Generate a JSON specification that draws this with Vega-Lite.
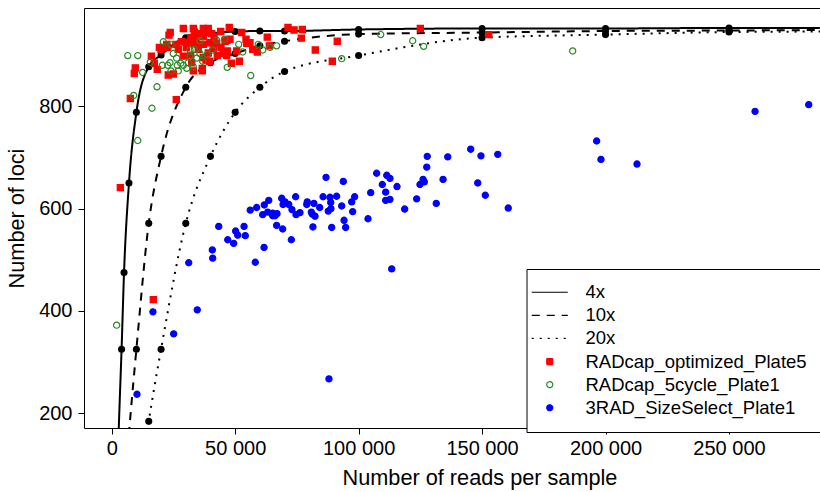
{
  "$schema": "https://vega.github.io/schema/vega-lite/v6.json",
  "width": 736,
  "height": 420,
  "autosize": {"type": "none"},
  "padding": {"left": 84, "top": 8, "right": 0, "bottom": 64},
  "background": "white",
  "datasets": {
    "curves": [
      {"x": 2000, "y": 40, "series": "4x", "dot": false},
      {"x": 3000, "y": 190, "series": "4x", "dot": false},
      {"x": 4000, "y": 325, "series": "4x", "dot": true},
      {"x": 5000, "y": 475, "series": "4x", "dot": true},
      {"x": 7000, "y": 650, "series": "4x", "dot": true},
      {"x": 10000, "y": 788, "series": "4x", "dot": true},
      {"x": 15000, "y": 877, "series": "4x", "dot": true},
      {"x": 20000, "y": 900, "series": "4x", "dot": true},
      {"x": 30000, "y": 934, "series": "4x", "dot": true},
      {"x": 50000, "y": 946, "series": "4x", "dot": true},
      {"x": 60000, "y": 947, "series": "4x", "dot": true},
      {"x": 70000, "y": 947, "series": "4x", "dot": true},
      {"x": 100000, "y": 950, "series": "4x", "dot": true},
      {"x": 150000, "y": 952, "series": "4x", "dot": true},
      {"x": 200000, "y": 952, "series": "4x", "dot": true},
      {"x": 250000, "y": 953, "series": "4x", "dot": true},
      {"x": 290000, "y": 953, "series": "4x", "dot": false},
      {"x": 5000, "y": 40, "series": "10x", "dot": false},
      {"x": 7500, "y": 190, "series": "10x", "dot": false},
      {"x": 10000, "y": 325, "series": "10x", "dot": true},
      {"x": 15000, "y": 571, "series": "10x", "dot": true},
      {"x": 20000, "y": 702, "series": "10x", "dot": true},
      {"x": 30000, "y": 837, "series": "10x", "dot": true},
      {"x": 40000, "y": 885, "series": "10x", "dot": true},
      {"x": 50000, "y": 903, "series": "10x", "dot": true},
      {"x": 60000, "y": 918, "series": "10x", "dot": true},
      {"x": 70000, "y": 927, "series": "10x", "dot": true},
      {"x": 100000, "y": 941, "series": "10x", "dot": true},
      {"x": 150000, "y": 944, "series": "10x", "dot": true},
      {"x": 200000, "y": 947, "series": "10x", "dot": true},
      {"x": 250000, "y": 948, "series": "10x", "dot": true},
      {"x": 290000, "y": 949, "series": "10x", "dot": false},
      {"x": 11000, "y": 40, "series": "20x", "dot": false},
      {"x": 13000, "y": 120, "series": "20x", "dot": false},
      {"x": 15000, "y": 184, "series": "20x", "dot": true},
      {"x": 20000, "y": 325, "series": "20x", "dot": true},
      {"x": 30000, "y": 571, "series": "20x", "dot": true},
      {"x": 40000, "y": 702, "series": "20x", "dot": true},
      {"x": 50000, "y": 788, "series": "20x", "dot": true},
      {"x": 60000, "y": 837, "series": "20x", "dot": true},
      {"x": 70000, "y": 868, "series": "20x", "dot": true},
      {"x": 100000, "y": 899, "series": "20x", "dot": true},
      {"x": 150000, "y": 934, "series": "20x", "dot": true},
      {"x": 200000, "y": 940, "series": "20x", "dot": true},
      {"x": 250000, "y": 945, "series": "20x", "dot": true},
      {"x": 290000, "y": 946, "series": "20x", "dot": false}
    ],
    "samples": [
      {"x": 29000, "y": 952, "series": "RADcap_optimized_Plate5"},
      {"x": 33050, "y": 952, "series": "RADcap_optimized_Plate5"},
      {"x": 37100, "y": 952, "series": "RADcap_optimized_Plate5"},
      {"x": 39100, "y": 952, "series": "RADcap_optimized_Plate5"},
      {"x": 47600, "y": 954, "series": "RADcap_optimized_Plate5"},
      {"x": 23700, "y": 944, "series": "RADcap_optimized_Plate5"},
      {"x": 23200, "y": 939, "series": "RADcap_optimized_Plate5"},
      {"x": 33450, "y": 945, "series": "RADcap_optimized_Plate5"},
      {"x": 35750, "y": 942, "series": "RADcap_optimized_Plate5"},
      {"x": 38500, "y": 944, "series": "RADcap_optimized_Plate5"},
      {"x": 40500, "y": 942, "series": "RADcap_optimized_Plate5"},
      {"x": 44150, "y": 946, "series": "RADcap_optimized_Plate5"},
      {"x": 52650, "y": 944, "series": "RADcap_optimized_Plate5"},
      {"x": 32100, "y": 934, "series": "RADcap_optimized_Plate5"},
      {"x": 34150, "y": 931, "series": "RADcap_optimized_Plate5"},
      {"x": 37100, "y": 936, "series": "RADcap_optimized_Plate5"},
      {"x": 41450, "y": 936, "series": "RADcap_optimized_Plate5"},
      {"x": 47900, "y": 931, "series": "RADcap_optimized_Plate5"},
      {"x": 63000, "y": 935, "series": "RADcap_optimized_Plate5"},
      {"x": 71400, "y": 954, "series": "RADcap_optimized_Plate5"},
      {"x": 73850, "y": 949, "series": "RADcap_optimized_Plate5"},
      {"x": 77200, "y": 950, "series": "RADcap_optimized_Plate5"},
      {"x": 76800, "y": 933, "series": "RADcap_optimized_Plate5"},
      {"x": 91350, "y": 927, "series": "RADcap_optimized_Plate5"},
      {"x": 28200, "y": 926, "series": "RADcap_optimized_Plate5"},
      {"x": 26050, "y": 921, "series": "RADcap_optimized_Plate5"},
      {"x": 22300, "y": 921, "series": "RADcap_optimized_Plate5"},
      {"x": 30400, "y": 925, "series": "RADcap_optimized_Plate5"},
      {"x": 33050, "y": 926, "series": "RADcap_optimized_Plate5"},
      {"x": 32000, "y": 923, "series": "RADcap_optimized_Plate5"},
      {"x": 34650, "y": 921, "series": "RADcap_optimized_Plate5"},
      {"x": 37100, "y": 921, "series": "RADcap_optimized_Plate5"},
      {"x": 39800, "y": 924, "series": "RADcap_optimized_Plate5"},
      {"x": 42500, "y": 923, "series": "RADcap_optimized_Plate5"},
      {"x": 45900, "y": 927, "series": "RADcap_optimized_Plate5"},
      {"x": 46700, "y": 929, "series": "RADcap_optimized_Plate5"},
      {"x": 54400, "y": 931, "series": "RADcap_optimized_Plate5"},
      {"x": 54700, "y": 923, "series": "RADcap_optimized_Plate5"},
      {"x": 56000, "y": 924, "series": "RADcap_optimized_Plate5"},
      {"x": 44250, "y": 915, "series": "RADcap_optimized_Plate5"},
      {"x": 19300, "y": 915, "series": "RADcap_optimized_Plate5"},
      {"x": 19950, "y": 911, "series": "RADcap_optimized_Plate5"},
      {"x": 22700, "y": 915, "series": "RADcap_optimized_Plate5"},
      {"x": 26950, "y": 911, "series": "RADcap_optimized_Plate5"},
      {"x": 30200, "y": 915, "series": "RADcap_optimized_Plate5"},
      {"x": 35050, "y": 911, "series": "RADcap_optimized_Plate5"},
      {"x": 41150, "y": 913, "series": "RADcap_optimized_Plate5"},
      {"x": 50600, "y": 908, "series": "RADcap_optimized_Plate5"},
      {"x": 57100, "y": 911, "series": "RADcap_optimized_Plate5"},
      {"x": 63850, "y": 918, "series": "RADcap_optimized_Plate5"},
      {"x": 46800, "y": 908, "series": "RADcap_optimized_Plate5"},
      {"x": 58950, "y": 906, "series": "RADcap_optimized_Plate5"},
      {"x": 39100, "y": 904, "series": "RADcap_optimized_Plate5"},
      {"x": 45200, "y": 903, "series": "RADcap_optimized_Plate5"},
      {"x": 29000, "y": 898, "series": "RADcap_optimized_Plate5"},
      {"x": 32000, "y": 900, "series": "RADcap_optimized_Plate5"},
      {"x": 42750, "y": 899, "series": "RADcap_optimized_Plate5"},
      {"x": 46600, "y": 899, "series": "RADcap_optimized_Plate5"},
      {"x": 16050, "y": 898, "series": "RADcap_optimized_Plate5"},
      {"x": 37100, "y": 895, "series": "RADcap_optimized_Plate5"},
      {"x": 38200, "y": 890, "series": "RADcap_optimized_Plate5"},
      {"x": 39550, "y": 888, "series": "RADcap_optimized_Plate5"},
      {"x": 82450, "y": 910, "series": "RADcap_optimized_Plate5"},
      {"x": 89350, "y": 888, "series": "RADcap_optimized_Plate5"},
      {"x": 17250, "y": 884, "series": "RADcap_optimized_Plate5"},
      {"x": 32400, "y": 885, "series": "RADcap_optimized_Plate5"},
      {"x": 48450, "y": 884, "series": "RADcap_optimized_Plate5"},
      {"x": 51700, "y": 888, "series": "RADcap_optimized_Plate5"},
      {"x": 18450, "y": 872, "series": "RADcap_optimized_Plate5"},
      {"x": 9550, "y": 875, "series": "RADcap_optimized_Plate5"},
      {"x": 9150, "y": 864, "series": "RADcap_optimized_Plate5"},
      {"x": 36700, "y": 874, "series": "RADcap_optimized_Plate5"},
      {"x": 33050, "y": 869, "series": "RADcap_optimized_Plate5"},
      {"x": 36700, "y": 869, "series": "RADcap_optimized_Plate5"},
      {"x": 22900, "y": 861, "series": "RADcap_optimized_Plate5"},
      {"x": 24950, "y": 863, "series": "RADcap_optimized_Plate5"},
      {"x": 7550, "y": 815, "series": "RADcap_optimized_Plate5"},
      {"x": 26150, "y": 813, "series": "RADcap_optimized_Plate5"},
      {"x": 3500, "y": 641, "series": "RADcap_optimized_Plate5"},
      {"x": 16850, "y": 422, "series": "RADcap_optimized_Plate5"},
      {"x": 125000, "y": 952, "series": "RADcap_optimized_Plate5"},
      {"x": 152700, "y": 940, "series": "RADcap_optimized_Plate5"},
      {"x": 6500, "y": 899, "series": "RADcap_5cycle_Plate1"},
      {"x": 10550, "y": 899, "series": "RADcap_5cycle_Plate1"},
      {"x": 8900, "y": 821, "series": "RADcap_5cycle_Plate1"},
      {"x": 16300, "y": 796, "series": "RADcap_5cycle_Plate1"},
      {"x": 18350, "y": 838, "series": "RADcap_5cycle_Plate1"},
      {"x": 12550, "y": 866, "series": "RADcap_5cycle_Plate1"},
      {"x": 10550, "y": 733, "series": "RADcap_5cycle_Plate1"},
      {"x": 15650, "y": 886, "series": "RADcap_5cycle_Plate1"},
      {"x": 20500, "y": 880, "series": "RADcap_5cycle_Plate1"},
      {"x": 23600, "y": 885, "series": "RADcap_5cycle_Plate1"},
      {"x": 24000, "y": 869, "series": "RADcap_5cycle_Plate1"},
      {"x": 26950, "y": 869, "series": "RADcap_5cycle_Plate1"},
      {"x": 26300, "y": 894, "series": "RADcap_5cycle_Plate1"},
      {"x": 27950, "y": 884, "series": "RADcap_5cycle_Plate1"},
      {"x": 29000, "y": 880, "series": "RADcap_5cycle_Plate1"},
      {"x": 31000, "y": 885, "series": "RADcap_5cycle_Plate1"},
      {"x": 30400, "y": 874, "series": "RADcap_5cycle_Plate1"},
      {"x": 24950, "y": 903, "series": "RADcap_5cycle_Plate1"},
      {"x": 24000, "y": 920, "series": "RADcap_5cycle_Plate1"},
      {"x": 20900, "y": 926, "series": "RADcap_5cycle_Plate1"},
      {"x": 31700, "y": 910, "series": "RADcap_5cycle_Plate1"},
      {"x": 35750, "y": 903, "series": "RADcap_5cycle_Plate1"},
      {"x": 34400, "y": 894, "series": "RADcap_5cycle_Plate1"},
      {"x": 36850, "y": 888, "series": "RADcap_5cycle_Plate1"},
      {"x": 38700, "y": 901, "series": "RADcap_5cycle_Plate1"},
      {"x": 40900, "y": 910, "series": "RADcap_5cycle_Plate1"},
      {"x": 42500, "y": 929, "series": "RADcap_5cycle_Plate1"},
      {"x": 45750, "y": 931, "series": "RADcap_5cycle_Plate1"},
      {"x": 35750, "y": 928, "series": "RADcap_5cycle_Plate1"},
      {"x": 46800, "y": 876, "series": "RADcap_5cycle_Plate1"},
      {"x": 51450, "y": 921, "series": "RADcap_5cycle_Plate1"},
      {"x": 53050, "y": 906, "series": "RADcap_5cycle_Plate1"},
      {"x": 56300, "y": 860, "series": "RADcap_5cycle_Plate1"},
      {"x": 59350, "y": 921, "series": "RADcap_5cycle_Plate1"},
      {"x": 61150, "y": 910, "series": "RADcap_5cycle_Plate1"},
      {"x": 64100, "y": 915, "series": "RADcap_5cycle_Plate1"},
      {"x": 66800, "y": 918, "series": "RADcap_5cycle_Plate1"},
      {"x": 33050, "y": 877, "series": "RADcap_5cycle_Plate1"},
      {"x": 22700, "y": 880, "series": "RADcap_5cycle_Plate1"},
      {"x": 26550, "y": 880, "series": "RADcap_5cycle_Plate1"},
      {"x": 31700, "y": 897, "series": "RADcap_5cycle_Plate1"},
      {"x": 33450, "y": 911, "series": "RADcap_5cycle_Plate1"},
      {"x": 108950, "y": 940, "series": "RADcap_5cycle_Plate1"},
      {"x": 121900, "y": 928, "series": "RADcap_5cycle_Plate1"},
      {"x": 126350, "y": 917, "series": "RADcap_5cycle_Plate1"},
      {"x": 93150, "y": 893, "series": "RADcap_5cycle_Plate1"},
      {"x": 186700, "y": 908, "series": "RADcap_5cycle_Plate1"},
      {"x": 2000, "y": 372, "series": "RADcap_5cycle_Plate1"},
      {"x": 86800, "y": 661, "series": "3RAD_SizeSelect_Plate1"},
      {"x": 68850, "y": 620, "series": "3RAD_SizeSelect_Plate1"},
      {"x": 74500, "y": 623, "series": "3RAD_SizeSelect_Plate1"},
      {"x": 63600, "y": 616, "series": "3RAD_SizeSelect_Plate1"},
      {"x": 70200, "y": 613, "series": "3RAD_SizeSelect_Plate1"},
      {"x": 71700, "y": 608, "series": "3RAD_SizeSelect_Plate1"},
      {"x": 73000, "y": 598, "series": "3RAD_SizeSelect_Plate1"},
      {"x": 69400, "y": 608, "series": "3RAD_SizeSelect_Plate1"},
      {"x": 79200, "y": 613, "series": "3RAD_SizeSelect_Plate1"},
      {"x": 79000, "y": 608, "series": "3RAD_SizeSelect_Plate1"},
      {"x": 81900, "y": 610, "series": "3RAD_SizeSelect_Plate1"},
      {"x": 85600, "y": 623, "series": "3RAD_SizeSelect_Plate1"},
      {"x": 88400, "y": 622, "series": "3RAD_SizeSelect_Plate1"},
      {"x": 91100, "y": 624, "series": "3RAD_SizeSelect_Plate1"},
      {"x": 88700, "y": 612, "series": "3RAD_SizeSelect_Plate1"},
      {"x": 84250, "y": 602, "series": "3RAD_SizeSelect_Plate1"},
      {"x": 87700, "y": 595, "series": "3RAD_SizeSelect_Plate1"},
      {"x": 88800, "y": 600, "series": "3RAD_SizeSelect_Plate1"},
      {"x": 56100, "y": 597, "series": "3RAD_SizeSelect_Plate1"},
      {"x": 58700, "y": 602, "series": "3RAD_SizeSelect_Plate1"},
      {"x": 61800, "y": 607, "series": "3RAD_SizeSelect_Plate1"},
      {"x": 61150, "y": 588, "series": "3RAD_SizeSelect_Plate1"},
      {"x": 63200, "y": 593, "series": "3RAD_SizeSelect_Plate1"},
      {"x": 65200, "y": 591, "series": "3RAD_SizeSelect_Plate1"},
      {"x": 66950, "y": 590, "series": "3RAD_SizeSelect_Plate1"},
      {"x": 65200, "y": 586, "series": "3RAD_SizeSelect_Plate1"},
      {"x": 66150, "y": 586, "series": "3RAD_SizeSelect_Plate1"},
      {"x": 74650, "y": 588, "series": "3RAD_SizeSelect_Plate1"},
      {"x": 76250, "y": 592, "series": "3RAD_SizeSelect_Plate1"},
      {"x": 80850, "y": 593, "series": "3RAD_SizeSelect_Plate1"},
      {"x": 81250, "y": 589, "series": "3RAD_SizeSelect_Plate1"},
      {"x": 82350, "y": 585, "series": "3RAD_SizeSelect_Plate1"},
      {"x": 66800, "y": 567, "series": "3RAD_SizeSelect_Plate1"},
      {"x": 69250, "y": 560, "series": "3RAD_SizeSelect_Plate1"},
      {"x": 81500, "y": 564, "series": "3RAD_SizeSelect_Plate1"},
      {"x": 89100, "y": 563, "series": "3RAD_SizeSelect_Plate1"},
      {"x": 72750, "y": 539, "series": "3RAD_SizeSelect_Plate1"},
      {"x": 43350, "y": 565, "series": "3RAD_SizeSelect_Plate1"},
      {"x": 50200, "y": 556, "series": "3RAD_SizeSelect_Plate1"},
      {"x": 53600, "y": 565, "series": "3RAD_SizeSelect_Plate1"},
      {"x": 51050, "y": 548, "series": "3RAD_SizeSelect_Plate1"},
      {"x": 54100, "y": 547, "series": "3RAD_SizeSelect_Plate1"},
      {"x": 47000, "y": 539, "series": "3RAD_SizeSelect_Plate1"},
      {"x": 49400, "y": 532, "series": "3RAD_SizeSelect_Plate1"},
      {"x": 61700, "y": 524, "series": "3RAD_SizeSelect_Plate1"},
      {"x": 40750, "y": 519, "series": "3RAD_SizeSelect_Plate1"},
      {"x": 40900, "y": 503, "series": "3RAD_SizeSelect_Plate1"},
      {"x": 31200, "y": 494, "series": "3RAD_SizeSelect_Plate1"},
      {"x": 58150, "y": 495, "series": "3RAD_SizeSelect_Plate1"},
      {"x": 16700, "y": 398, "series": "3RAD_SizeSelect_Plate1"},
      {"x": 34650, "y": 402, "series": "3RAD_SizeSelect_Plate1"},
      {"x": 25100, "y": 355, "series": "3RAD_SizeSelect_Plate1"},
      {"x": 10250, "y": 237, "series": "3RAD_SizeSelect_Plate1"},
      {"x": 88000, "y": 267, "series": "3RAD_SizeSelect_Plate1"},
      {"x": 145400, "y": 716, "series": "3RAD_SizeSelect_Plate1"},
      {"x": 149550, "y": 703, "series": "3RAD_SizeSelect_Plate1"},
      {"x": 156350, "y": 706, "series": "3RAD_SizeSelect_Plate1"},
      {"x": 127800, "y": 702, "series": "3RAD_SizeSelect_Plate1"},
      {"x": 136100, "y": 701, "series": "3RAD_SizeSelect_Plate1"},
      {"x": 127600, "y": 681, "series": "3RAD_SizeSelect_Plate1"},
      {"x": 107300, "y": 669, "series": "3RAD_SizeSelect_Plate1"},
      {"x": 111400, "y": 665, "series": "3RAD_SizeSelect_Plate1"},
      {"x": 112700, "y": 659, "series": "3RAD_SizeSelect_Plate1"},
      {"x": 109600, "y": 647, "series": "3RAD_SizeSelect_Plate1"},
      {"x": 115550, "y": 643, "series": "3RAD_SizeSelect_Plate1"},
      {"x": 110950, "y": 632, "series": "3RAD_SizeSelect_Plate1"},
      {"x": 110950, "y": 616, "series": "3RAD_SizeSelect_Plate1"},
      {"x": 112700, "y": 618, "series": "3RAD_SizeSelect_Plate1"},
      {"x": 104900, "y": 631, "series": "3RAD_SizeSelect_Plate1"},
      {"x": 93800, "y": 653, "series": "3RAD_SizeSelect_Plate1"},
      {"x": 98400, "y": 623, "series": "3RAD_SizeSelect_Plate1"},
      {"x": 97200, "y": 613, "series": "3RAD_SizeSelect_Plate1"},
      {"x": 93150, "y": 605, "series": "3RAD_SizeSelect_Plate1"},
      {"x": 97600, "y": 594, "series": "3RAD_SizeSelect_Plate1"},
      {"x": 94100, "y": 577, "series": "3RAD_SizeSelect_Plate1"},
      {"x": 94750, "y": 563, "series": "3RAD_SizeSelect_Plate1"},
      {"x": 103800, "y": 580, "series": "3RAD_SizeSelect_Plate1"},
      {"x": 118650, "y": 599, "series": "3RAD_SizeSelect_Plate1"},
      {"x": 123500, "y": 619, "series": "3RAD_SizeSelect_Plate1"},
      {"x": 126100, "y": 657, "series": "3RAD_SizeSelect_Plate1"},
      {"x": 126600, "y": 652, "series": "3RAD_SizeSelect_Plate1"},
      {"x": 124850, "y": 647, "series": "3RAD_SizeSelect_Plate1"},
      {"x": 134200, "y": 657, "series": "3RAD_SizeSelect_Plate1"},
      {"x": 131450, "y": 610, "series": "3RAD_SizeSelect_Plate1"},
      {"x": 148250, "y": 650, "series": "3RAD_SizeSelect_Plate1"},
      {"x": 151300, "y": 626, "series": "3RAD_SizeSelect_Plate1"},
      {"x": 160600, "y": 601, "series": "3RAD_SizeSelect_Plate1"},
      {"x": 113400, "y": 482, "series": "3RAD_SizeSelect_Plate1"},
      {"x": 196400, "y": 732, "series": "3RAD_SizeSelect_Plate1"},
      {"x": 198150, "y": 696, "series": "3RAD_SizeSelect_Plate1"},
      {"x": 212750, "y": 687, "series": "3RAD_SizeSelect_Plate1"},
      {"x": 260550, "y": 790, "series": "3RAD_SizeSelect_Plate1"},
      {"x": 282300, "y": 803, "series": "3RAD_SizeSelect_Plate1"}
    ]
  },
  "layer": [
    {
      "data": {"name": "curves"},
      "mark": {"type": "line", "interpolate": "monotone", "strokeWidth": 2, "clip": true},
      "encoding": {
        "x": {
          "field": "x", "type": "quantitative",
          "scale": {"domain": [-11218, 286862], "nice": false, "zero": false},
          "axis": {
            "values": [0, 50000, 100000, 150000, 200000, 250000],
            "labelExpr": "replace(format(datum.value, ','), ',', ' ')",
            "title": "Number of reads per sample",
            "titleX": 395.5,
            "titleAnchor": null,
            "titleAlign": "center",
            "titlePadding": 9,
            "labelPadding": 4
          }
        },
        "y": {
          "field": "y", "type": "quantitative",
          "scale": {"domain": [171, 992], "nice": false, "zero": false},
          "axis": {
            "values": [200, 400, 600, 800],
            "title": "Number of loci",
            "titlePadding": 10,
            "labelPadding": 6
          }
        },
        "stroke": {
          "field": "series", "type": "nominal",
          "scale": {
            "domain": ["4x", "10x", "20x", "RADcap_optimized_Plate5", "RADcap_5cycle_Plate1", "3RAD_SizeSelect_Plate1"],
            "range": ["black", "black", "black", "#ff0000", "#228b22", "#0000ff"]
          },
          "legend": {"title": " "}
        },
        "strokeDash": {
          "field": "series", "type": "nominal",
          "scale": {
            "domain": ["4x", "10x", "20x", "RADcap_optimized_Plate5", "RADcap_5cycle_Plate1", "3RAD_SizeSelect_Plate1"],
            "range": [[1, 0], [8, 7], [2, 6], [1, 0], [1, 0], [1, 0]]
          },
          "legend": {"title": " "}
        }
      }
    },
    {
      "data": {"name": "curves"},
      "transform": [{"filter": "datum.dot"}],
      "mark": {"type": "circle", "size": 50, "color": "black", "opacity": 1},
      "encoding": {
        "x": {"field": "x", "type": "quantitative"},
        "y": {"field": "y", "type": "quantitative"}
      }
    },
    {
      "data": {"name": "samples"},
      "mark": {"type": "point", "filled": true, "size": 38, "strokeWidth": 1.2, "opacity": 1},
      "encoding": {
        "x": {"field": "x", "type": "quantitative"},
        "y": {"field": "y", "type": "quantitative"},
        "shape": {
          "field": "series", "type": "nominal",
          "scale": {
            "domain": ["4x", "10x", "20x", "RADcap_optimized_Plate5", "RADcap_5cycle_Plate1", "3RAD_SizeSelect_Plate1"],
            "range": ["M-6,0H6", "M-6,0H6", "M-6,0H6", "square", "circle", "circle"]
          },
          "legend": {"title": " "}
        },
        "fill": {
          "field": "series", "type": "nominal",
          "scale": {
            "domain": ["4x", "10x", "20x", "RADcap_optimized_Plate5", "RADcap_5cycle_Plate1", "3RAD_SizeSelect_Plate1"],
            "range": ["transparent", "transparent", "transparent", "#ff0000", "transparent", "#0000ff"]
          },
          "legend": {"title": " "}
        },
        "stroke": {
          "field": "series", "type": "nominal",
          "legend": {"title": " "}
        }
      }
    }
  ],
  "config": {
    "font": "Liberation Sans",
    "view": {"stroke": "black", "strokeWidth": 1},
    "axis": {
      "grid": false,
      "domain": false,
      "labelFont": "Liberation Sans",
      "labelFontSize": 20,
      "labelColor": "black",
      "titleFont": "Liberation Sans",
      "titleFontSize": 21.7,
      "titleFontWeight": "normal",
      "titleColor": "black",
      "tickColor": "black",
      "tickSize": 6,
      "tickWidth": 1
    },
    "legend": {
      "orient": "none",
      "legendX": 442.5,
      "legendY": 261,
      "padding": 14,
      "strokeColor": "black",
      "strokeWidth": 1,
      "fillColor": "white",
      "titleOrient": "right",
      "titlePadding": 30,
      "titleFontSize": 8,
      "labelFont": "Liberation Sans",
      "labelFontSize": 18.5,
      "labelColor": "black",
      "labelOffset": 26.5,
      "labelLimit": 400,
      "rowPadding": 4.1,
      "symbolSize": 36,
      "symbolStrokeWidth": 1.2
    }
  }
}
